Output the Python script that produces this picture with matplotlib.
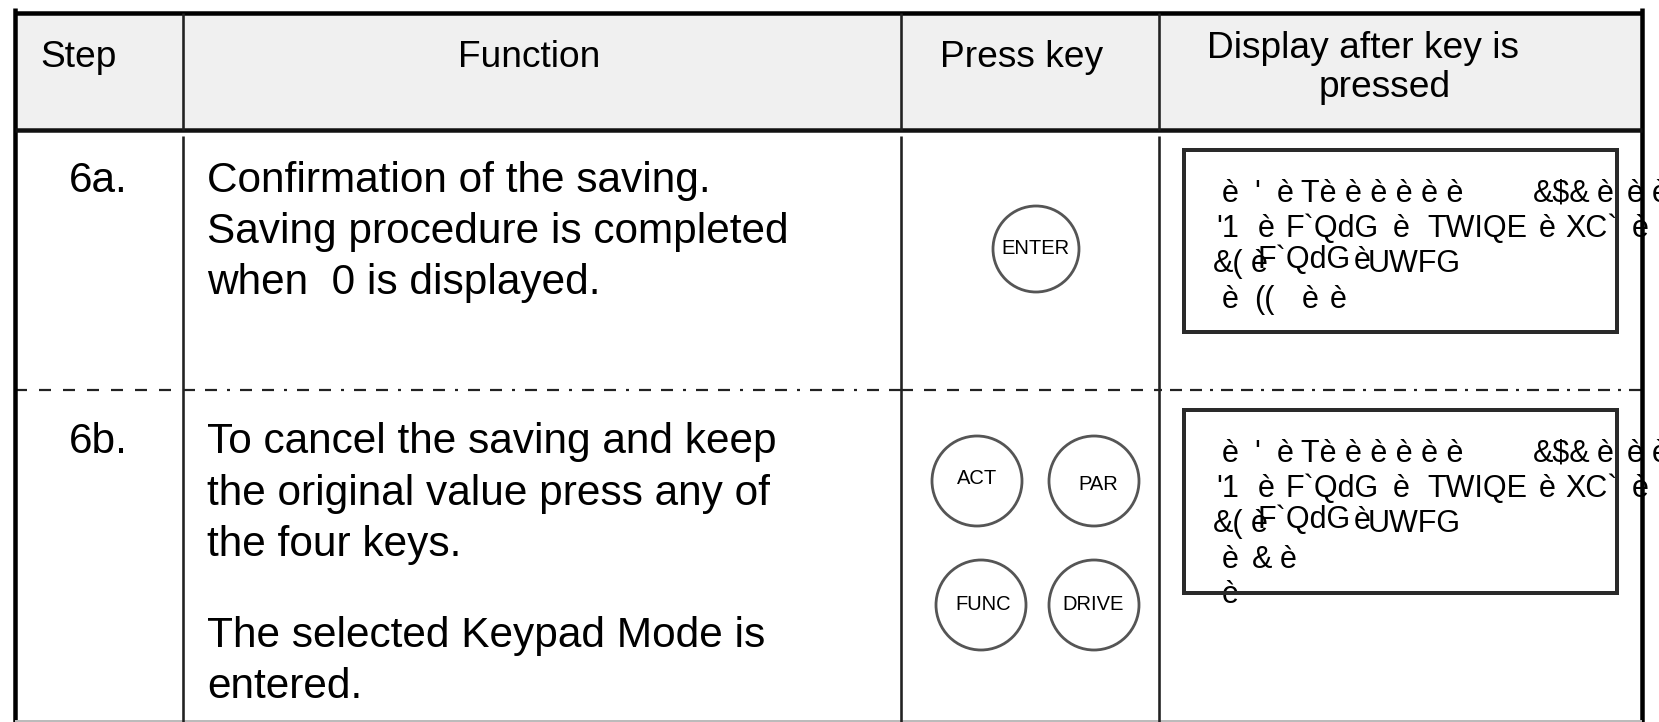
import matplotlib
matplotlib.use("Agg")
import matplotlib.pyplot as plt
from matplotlib.patches import Rectangle, Circle

plt.rcParams['font.family'] = ['Liberation Sans', 'DejaVu Sans']

# ---------------- data ----------------
header_labels = ["Step", "Function", "Press key", "Display after key is", "pressed"]
step_labels = ["6a.", "6b."]
function_6a = ["Confirmation of the saving.",
               "Saving procedure is completed",
               "when  0 is displayed."]
function_6b = ["To cancel the saving and keep",
               "the original value press any of",
               "the four keys.",
               "The selected Keypad Mode is",
               "entered."]
keys_6a = ["ENTER"]
keys_6b = ["ACT", "PAR", "FUNC", "DRIVE"]
display_line1 = ["è", "'", "è", "Tè è è è è è", "&$&", "è", "è", "è"]
display_line2 = ["'1", "è", "F`QdG", "è", "TWIQE", "è", "XC`", "è"]
display_line3 = ["&(", "è", "F`QdG", "è", "UWFG"]
display_6a_line4 = ["è", "((", "è", "è"]
display_6b_line4 = ["è", "&", "è"]
display_6b_line5 = ["è"]

# ---------------- layout (pixel units) ----------------
W, H = 1659, 722
PT = 0.72  # points per pixel at dpi 100
fig = plt.figure(figsize=(W / 100, H / 100), dpi=100)
ax = fig.add_axes([0, 0, 1, 1])
ax.set_xlim(0, W)
ax.set_ylim(H, 0)
ax.axis('off')

X_LEFT, X_C1, X_C2, X_C3, X_RIGHT = 15, 183, 901, 1159, 1642
Y_TOP, Y_HEAD, Y_DASH = 13, 130, 390

# header background
ax.add_patch(Rectangle((X_LEFT, Y_TOP), X_RIGHT - X_LEFT, Y_HEAD - Y_TOP,
                       facecolor='#f0f0f0', edgecolor='none', zorder=0))

def hline(y, x0, x1, lw_px, color='black', **kw):
    ax.plot([x0, x1], [y, y], color=color, lw=lw_px * PT,
            solid_capstyle='butt', zorder=6, **kw)

def vline(x, y0, y1, lw_px, color='black'):
    ax.plot([x, x], [y0, y1], color=color, lw=lw_px * PT,
            solid_capstyle='butt', zorder=6)

# outer and header borders
vline(X_LEFT, 8, H, 4.5)
vline(X_RIGHT, 8, H, 4.5)
hline(Y_TOP, X_LEFT, X_RIGHT, 4.5)
hline(Y_HEAD, X_LEFT, X_RIGHT, 4.5, color='#111111')
hline(H - 1, X_LEFT, X_RIGHT, 2, color='#bbbbbb')
for xc in (X_C1, X_C2, X_C3):
    vline(xc, Y_TOP, Y_HEAD, 2.6, color='#222222')
    vline(xc, Y_HEAD + 6, H, 2.6, color='#222222')

# dashed separator between rows
lw_d = 2.2
def dashed(x0, x1, seq_px):
    ln, = ax.plot([x0, x1], [Y_DASH, Y_DASH], color='#222222', lw=lw_d * PT,
                  zorder=5, solid_capstyle='butt')
    ln.set_dashes([s / lw_d for s in seq_px])

dashed(X_LEFT, X_C1, [12, 12])
dashed(X_C1, X_C2, [12, 10, 12, 10, 3, 10])
dashed(X_C2, X_C3, [12, 11])
dashed(X_C3, X_RIGHT, [3, 8, 12, 8, 12, 8])

# header texts
HFS = 26.7
ax.text(40, 67, header_labels[0], fontsize=HFS, ha='left', va='baseline')
ax.text(529, 67, header_labels[1], fontsize=HFS, ha='center', va='baseline')
ax.text(1022, 67, header_labels[2], fontsize=HFS, ha='center', va='baseline')
ax.text(1207, 58, header_labels[3], fontsize=HFS, ha='left', va='baseline')
ax.text(1385, 97, header_labels[4], fontsize=HFS, ha='center', va='baseline')

# step + function texts
FS = 30.5
ax.text(69, 192, step_labels[0], fontsize=FS, ha='left', va='baseline')
ax.text(69, 453, step_labels[1], fontsize=FS, ha='left', va='baseline')
for s, yb in zip(function_6a, [192, 243, 294]):
    ax.text(207, yb, s, fontsize=FS, ha='left', va='baseline')
for s, yb in zip(function_6b, [453, 505, 556, 647, 698]):
    ax.text(207, yb, s, fontsize=FS, ha='left', va='baseline')

# keys
KFS = 14.5
key_circ = [(1036, 249, 43)]
key_txt = [(1035, 249)]
for lab, (cx, cy, r), (tx, ty) in zip(keys_6a, key_circ, key_txt):
    ax.add_patch(Circle((cx, cy), r, facecolor='white', edgecolor='#555555',
                        lw=2.8 * PT, zorder=3))
    ax.text(tx, ty, lab, fontsize=KFS, ha='center', va='center', zorder=4)

key_circ_b = [(977, 481, 45), (1094, 481, 45), (981, 605, 45), (1094, 605, 45)]
key_txt_b = [(977, 478), (1098, 484), (983, 605), (1093, 605)]
for lab, (cx, cy, r), (tx, ty) in zip(keys_6b, key_circ_b, key_txt_b):
    ax.add_patch(Circle((cx, cy), r, facecolor='white', edgecolor='#555555',
                        lw=2.8 * PT, zorder=3))
    ax.text(tx, ty, lab, fontsize=KFS, ha='center', va='center', zorder=4)

# display boxes
for y0, y1 in [(150, 332), (410, 593)]:
    ax.add_patch(Rectangle((1184, y0), 1617 - 1184, y1 - y0, facecolor='none',
                           edgecolor='#2a2a2a', lw=4 * PT, zorder=5))

DFS = 22
def draw_line(segs, xs, yb, dy=None):
    dy = dy or [0] * len(segs)
    for s, x, d in zip(segs, xs, dy):
        ax.text(x, yb + d, s, fontsize=DFS, ha='left', va='baseline', zorder=3)

x1 = [1222, 1254, 1277, 1301, 1533, 1597, 1627, 1652]
x2 = [1216, 1258, 1285, 1393, 1427, 1539, 1565, 1632]
x3 = [1213, 1251, 1257, 1354, 1368]
d3 = [0, 0, -4, -3, 0]
for off in (0, 260):
    draw_line(display_line1, x1, 202 + off)
    draw_line(display_line2, x2, 237 + off)
    draw_line(display_line3, x3, 272 + off, d3)
draw_line(display_6a_line4, [1222, 1254, 1302, 1330], 308)
draw_line(display_6b_line4, [1222, 1252, 1280], 568)
draw_line(display_6b_line5, [1222], 603)

fig.savefig("out.png", dpi=100, facecolor='white')
